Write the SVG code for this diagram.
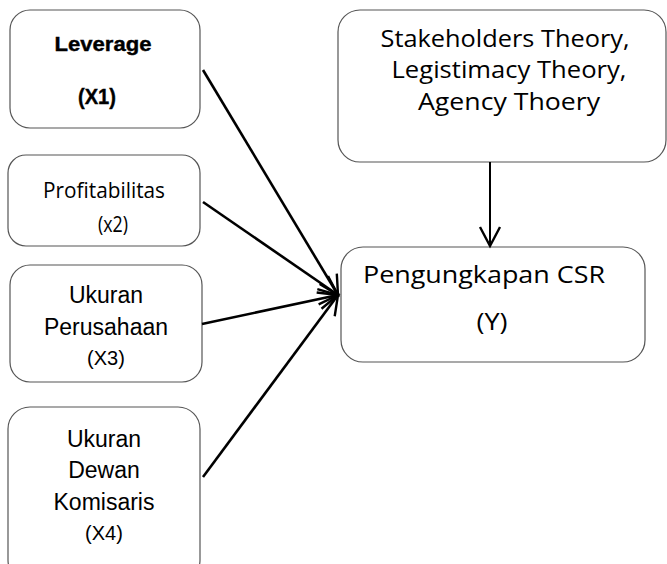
<svg xmlns="http://www.w3.org/2000/svg" width="667" height="564" viewBox="0 0 667 564">
<style>
.box{fill:#fff;stroke:#555;stroke-width:1.2}
.ar{font-family:"Liberation Sans",Arial,sans-serif;fill:#000;text-anchor:middle}
.ca{font-family:"Open Sans","Noto Sans",sans-serif;fill:#000;text-anchor:middle}
.conn line{stroke:#000;stroke-width:2.6;fill:none}
</style>
<defs>
<marker id="arr" markerUnits="userSpaceOnUse" viewBox="-24 -14 28 28" refX="0" refY="0" markerWidth="28" markerHeight="28" orient="auto" overflow="visible">
<path d="M-19,-10 L0,0 L-19,10" fill="none" stroke="#000" stroke-width="2.4"/>
</marker>
</defs>
<rect width="667" height="564" fill="#fff"/>
<g id="leverage">
<rect class="box" x="10" y="10" width="190" height="118" rx="20"/>
<text class="ar" x="103" y="51" font-size="21" font-weight="bold" stroke="#000" stroke-width="0.4" textLength="97" lengthAdjust="spacingAndGlyphs">Leverage</text>
<text class="ar" x="97" y="104" font-size="22" font-weight="bold" stroke="#000" stroke-width="0.4" textLength="38" lengthAdjust="spacingAndGlyphs">(X1)</text>
</g>
<g id="profitabilitas">
<rect class="box" x="8" y="155" width="192" height="91" rx="18"/>
<text class="ca" x="104" y="198" font-size="21" textLength="122" lengthAdjust="spacingAndGlyphs">Profitabilitas</text>
<text class="ca" x="113" y="232" font-size="21" textLength="30" lengthAdjust="spacingAndGlyphs">(x2)</text>
</g>
<g id="ukuran-perusahaan">
<rect class="box" x="10" y="265" width="192" height="117" rx="20"/>
<text class="ar" x="106" y="303" font-size="23">Ukuran</text>
<text class="ar" x="106" y="335" font-size="23">Perusahaan</text>
<text class="ar" x="106" y="365" font-size="20">(X3)</text>
</g>
<g id="ukuran-dewan">
<rect class="box" x="8" y="407" width="192" height="175" rx="22"/>
<text class="ar" x="104" y="447" font-size="23">Ukuran</text>
<text class="ar" x="104" y="478" font-size="23">Dewan</text>
<text class="ar" x="104" y="510" font-size="23">Komisaris</text>
<text class="ar" x="104" y="540" font-size="20">(X4)</text>
</g>
<g id="theory">
<rect class="box" x="338" y="10" width="328" height="152" rx="22"/>
<text class="ca" x="505" y="47" font-size="24" textLength="249" lengthAdjust="spacingAndGlyphs">Stakeholders Theory,</text>
<text class="ca" x="509" y="78" font-size="24" textLength="235" lengthAdjust="spacingAndGlyphs">Legistimacy Theory,</text>
<text class="ca" x="509" y="110" font-size="24" textLength="182" lengthAdjust="spacingAndGlyphs">Agency Thoery</text>
</g>
<g id="csr">
<rect class="box" x="341" y="247" width="304" height="115" rx="22"/>
<text class="ca" x="484" y="283" font-size="24" textLength="242" lengthAdjust="spacingAndGlyphs">Pengungkapan CSR</text>
<text class="ca" x="492" y="330" font-size="24" textLength="31" lengthAdjust="spacingAndGlyphs">(Y)</text>
</g>
<g id="connectors" class="conn">
<line x1="203" y1="70" x2="338" y2="295" marker-end="url(#arr)"/>
<line x1="203" y1="202" x2="338" y2="295" marker-end="url(#arr)"/>
<line x1="202" y1="324" x2="338" y2="295" marker-end="url(#arr)"/>
<line x1="203" y1="477" x2="338" y2="295" marker-end="url(#arr)"/>
<line x1="490" y1="162" x2="490" y2="246" marker-end="url(#arr)" style="stroke-width:2"/>
</g>
</svg>
